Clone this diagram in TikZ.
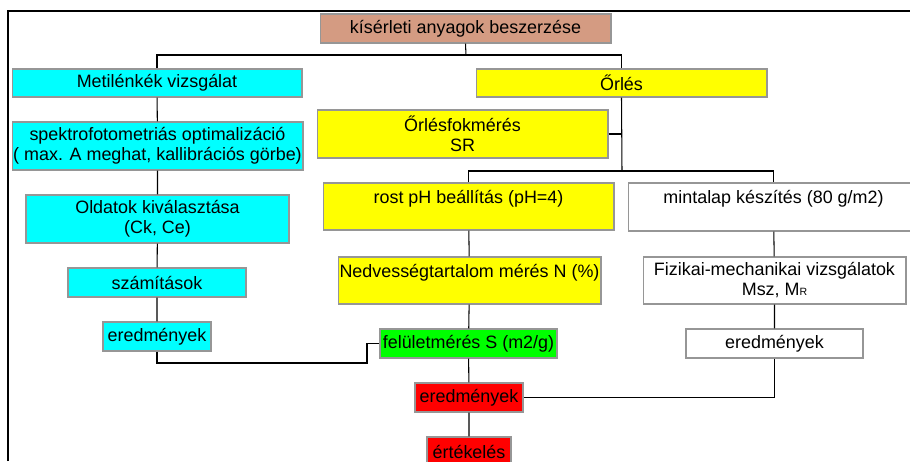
\documentclass[tikz,border=0pt]{standalone}
\usepackage{fontspec}
\setmainfont{Liberation Sans}
\usepackage{xcolor}
\definecolor{mbrown}{RGB}{212,155,130}
\definecolor{mborder}{RGB}{150,150,150}
\definecolor{mcyan}{RGB}{0,255,255}
\definecolor{myellow}{RGB}{255,255,0}
\definecolor{mgreen}{RGB}{0,255,0}
\definecolor{mred}{RGB}{255,0,0}
\usetikzlibrary{positioning}

\begin{document}
\begin{tikzpicture}[x=0.02cm, y=-0.02cm,
  cell/.style={draw=mborder, line width=0.6pt, inner sep=0pt, align=center, font=\fontsize{10.2}{11.4}\selectfont},
  cy/.style={cell, fill=mcyan},
  ye/.style={cell, fill=myellow},
  gr/.style={cell, fill=mgreen},
  rd/.style={cell, fill=mred},
  wh/.style={cell, fill=white},
  conn/.style={draw=black, line width=0.6pt}
]
  \useasboundingbox (0,0) rectangle (910,461);

  %% frame
  \draw[line width=1.4pt] (8,461) -- (8,11) -- (910,11);

  %% top
  \node[cell, fill=mbrown, minimum width=5.82cm, minimum height=0.58cm] (kiserl) at (465.5,28.5) {kísérleti anyagok beszerzése};

  %% left column: Metilénkék
  \node[cy, minimum width=5.8cm,  minimum height=0.56cm] (metil)  at (157,83)    {Metilénkék vizsgálat};
  \node[cy, minimum width=5.82cm, minimum height=0.96cm] (spektro) at (157.5,146) {spektrofotometriás optimalizáció\\( max. A meghat, kallibrációs görbe)};
  \node[cy, minimum width=5.26cm, minimum height=0.96cm] (oldat)  at (157.5,219) {Oldatok kiválasztása\\(Ck, Ce)};
  \node[cy, minimum width=3.56cm, minimum height=0.58cm] (szamit) at (157,282.5)  {számítások};
  \node[cy, minimum width=2.16cm, minimum height=0.58cm] (ered1)  at (157,336.5)  {eredmények};

  %% middle column: Őrlés
  \node[ye, minimum width=5.82cm, minimum height=0.56cm] (orles)  at (621.5,83)   {Őrlés};
  \node[ye, minimum width=5.82cm, minimum height=0.96cm] (fokmer) at (462.5,134)  {Őrlésfokmérés\\SR};
  \node[ye, minimum width=5.82cm, minimum height=0.94cm] (rostph) at (468.5,206.5) {rost pH beállítás (pH=4)\\~};
  \node[ye, minimum width=5.26cm, minimum height=0.94cm] (nedv)   at (469.5,280.5) {Nedvességtartalom mérés N (\%)\\~};
  \node[gr, minimum width=3.54cm, minimum height=0.58cm] (felulet) at (468.5,343.5) {felületmérés S (m2/g)};
  \node[rd, minimum width=2.16cm, minimum height=0.58cm] (ered2)  at (469,397.5)  {eredmények};
  \node[rd, minimum width=1.68cm, minimum height=0.58cm] (ertek)  at (469,451.5)  {értékelés};

  %% right column: mintalap
  \node[wh, minimum width=5.82cm, minimum height=0.96cm] (mintalap) at (773.5,207) {mintalap készítés (80 g/m2)\\~};
  \node[wh, minimum width=5.26cm, minimum height=0.94cm] (fizik)  at (774.5,280.5) {Fizikai-mechanikai vizsgálatok\\Msz, M{\fontsize{6}{6}\selectfont R}};
  \node[wh, minimum width=3.54cm, minimum height=0.58cm] (ered3)  at (774.5,343.5) {eredmények};

  %% connectors
  \coordinate (t1) at (466,55);
  \coordinate (t2) at (622,171);
  \coordinate (b1) at (367,363);
  \draw[conn] (kiserl.south) -- (t1);
  \draw[conn] (metil.north) |- (t1) -| (orles.north);
  \draw[conn] (metil) -- (spektro) -- (oldat) -- (szamit) -- (ered1);
  \draw[conn] (ered1.south) |- (b1) |- (felulet.west);
  \draw[conn] (orles.south) -- (t2);
  \draw[conn] (fokmer.east) -- (fokmer.east -| t2);
  \draw[conn] (rostph.north) |- (t2) -| (mintalap.north);
  \draw[conn] (rostph) -- (nedv) -- (felulet) -- (ered2) -- (ertek);
  \draw[conn] (mintalap) -- (fizik) -- (ered3);
  \draw[conn] (ered3.south) |- (ered2.east);
\end{tikzpicture}
\end{document}
